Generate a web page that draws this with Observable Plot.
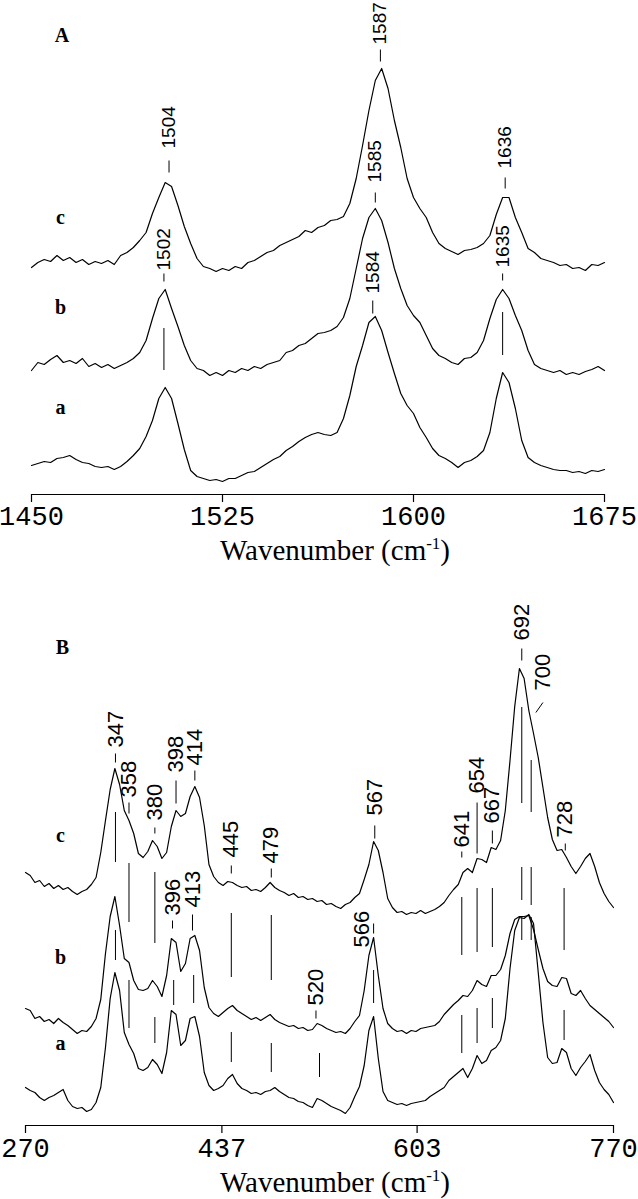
<!DOCTYPE html>
<html><head><meta charset="utf-8">
<script src="https://cdn.jsdelivr.net/npm/d3@7"></script>
<script src="https://cdn.jsdelivr.net/npm/@observablehq/plot@0.6"></script>
<style>
body{margin:0;background:#fff;}
#chart svg{display:block;}
</style></head><body><div id="chart"></div>
<script>
// ---- sampling grids (cm-1) ----
const waveA = d3.range(1450, 1675.01, 2.5);
const waveB = d3.range(270, 770.01, 4);
// ---- panel A spectra (relative intensity, offset traces) ----
const specA_c = [227,232,235,233,239,234,237,232,235,230,233,231,234,230,239,242,247,254,262,281,297,312,308,289,268,251,236,228,226,223,226,224,228,226,232,234,238,242,244,249,252,255,258,264,262,267,269,274,275,278,291,316,349,384,414,426,406,374,347,316,297,286,277,262,251,246,243,240,244,245,247,251,259,280,297,297,277,262,246,242,236,234,232,229,230,226,227,224,230,229,232];
const specA_b = [124,132,130,135,139,132,134,131,136,128,131,127,130,126,129,132,136,142,154,176,196,205,186,168,149,134,126,124,119,122,119,124,122,126,124,128,126,130,132,134,142,144,149,151,156,161,162,164,168,177,196,226,256,277,286,274,252,226,206,189,179,172,159,146,139,136,132,130,136,137,142,154,176,195,205,196,179,164,144,130,126,124,122,124,120,122,120,123,125,128,124];
const specA_a = [29,31,33,32,36,37,39,35,32,31,28,27,28,25,28,33,39,46,58,74,96,107,96,71,45,24,18,16,14,15,13,16,16,19,22,23,27,31,35,38,44,48,53,57,60,62,60,59,62,76,99,128,149,172,178,164,142,121,101,89,81,67,57,46,39,36,32,27,32,34,38,44,62,96,122,112,86,54,37,32,29,27,25,24,24,22,23,21,24,23,25];
// ---- panel B spectra ----
const specB_c = [253,250,243,245,239,242,237,240,236,238,234,231,234,236,241,248,273,305,336,357,341,315,305,292,272,268,274,285,279,267,273,299,315,309,312,329,339,328,300,261,249,243,240,244,243,240,238,239,235,236,234,238,243,238,235,233,230,232,228,229,226,227,224,225,221,222,219,217,221,223,228,232,246,261,284,275,253,227,218,213,214,211,213,212,215,212,214,216,219,223,230,236,241,253,257,253,267,266,263,278,276,285,315,365,419,457,447,415,392,368,338,308,286,275,276,268,259,252,259,267,272,259,243,232,224,218];
const specB_b = [117,115,107,109,104,106,102,107,103,100,96,92,95,94,99,107,126,172,209,229,200,167,163,145,136,135,137,145,139,129,150,187,183,154,162,187,190,175,138,118,112,109,113,117,120,115,112,109,106,108,105,108,111,106,103,101,99,100,97,98,95,96,102,100,97,95,93,94,92,97,104,110,135,170,188,150,117,102,97,94,95,92,95,94,97,98,99,100,104,111,116,121,125,130,129,135,145,141,139,150,150,156,170,192,206,209,209,210,196,176,157,144,140,139,148,147,132,130,135,127,120,116,112,108,104,98];
const specB_a = [38,35,33,28,25,28,30,33,36,25,19,17,18,14,16,23,38,78,127,153,135,93,81,72,57,55,58,66,61,52,73,115,111,80,85,107,109,89,53,40,35,37,40,47,51,42,37,35,32,33,31,34,35,38,34,31,28,27,24,23,20,18,27,25,22,19,17,15,12,18,29,39,60,95,109,67,34,25,23,21,22,20,22,23,24,25,29,32,35,38,45,49,53,57,48,57,70,62,65,75,78,85,107,157,195,208,207,211,202,153,103,68,62,63,77,73,57,50,58,64,71,55,43,36,31,23];

const ticksA = [1450, 1525, 1600, 1675];
const ticksB = [270, 437, 603, 770];

// peak labels: text, label position (x, bottom y), tick segment
const peaksA = [
  {text:"1504", x:1504, y:346, tx1:1504, tx2:1504, t1:334, t2:322},
  {text:"1502", x:1502, y:224, tx1:1502, tx2:1502, t1:221, t2:213},
  {text:"1587", x:1587, y:450, tx1:1587, tx2:1587, t1:445, t2:433},
  {text:"1585", x:1585, y:312, tx1:1585, tx2:1585, t1:302, t2:292},
  {text:"1584", x:1584, y:201, tx1:1584, tx2:1584, t1:194, t2:181},
  {text:"1636", x:1636, y:326, tx1:1636, tx2:1636, t1:317, t2:306},
  {text:"1635", x:1635, y:227, tx1:1635, tx2:1635, t1:221, t2:214}
];
const guidesA = [
  {x:1502, y1:166, y2:124},
  {x:1635, y1:182, y2:139}
];
const peaksB = [
  {text:"347", x:346.5, y:378, tx1:346.5, tx2:346.5, t1:372, t2:363},
  {text:"358", x:358, y:328, tx1:358, tx2:358, t1:323, t2:312},
  {text:"380", x:380, y:305, tx1:380, tx2:380, t1:298, t2:292},
  {text:"398", x:398, y:353, tx1:398, tx2:398, t1:345, t2:322},
  {text:"414", x:414, y:360, tx1:414, tx2:414, t1:355, t2:345},
  {text:"445", x:445, y:268, tx1:445, tx2:445, t1:260, t2:252},
  {text:"479", x:479, y:262, tx1:479, tx2:479, t1:257, t2:248},
  {text:"567", x:567, y:310, tx1:567, tx2:567, t1:300, t2:287},
  {text:"641", x:641, y:278, tx1:641, tx2:641, t1:274, t2:268},
  {text:"654", x:654, y:332, tx1:654, tx2:654, t1:323, t2:272},
  {text:"667", x:667, y:302, tx1:667, tx2:667, t1:295, t2:282},
  {text:"692", x:692, y:485, tx1:692, tx2:692, t1:477, t2:465},
  {text:"700", x:710, y:435, tx1:710, tx2:704, t1:423, t2:413},
  {text:"728", x:729, y:288, tx1:729, tx2:729, t1:282, t2:275},
  {text:"396", x:395, y:210, tx1:395, tx2:395, t1:205, t2:197},
  {text:"413", x:412, y:218, tx1:412, tx2:412, t1:211, t2:195},
  {text:"520", x:517, y:120, tx1:517, tx2:517, t1:115, t2:107},
  {text:"566", x:556, y:178, tx1:566, tx2:566, t1:202, t2:192}
];
const guidesB = [
  {x:346.5, y1:313, y2:263}, {x:358, y1:262, y2:203}, {x:380, y1:253, y2:182},
  {x:445, y1:212, y2:148}, {x:479, y1:210, y2:145}, {x:641, y1:228, y2:170},
  {x:654, y1:237, y2:173}, {x:667, y1:237, y2:178}, {x:692, y1:418, y2:322},
  {x:692, y1:258, y2:225}, {x:700, y1:365, y2:313}, {x:700, y1:258, y2:220},
  {x:728, y1:237, y2:175},
  {x:346.5, y1:195, y2:165}, {x:358, y1:145, y2:97}, {x:380, y1:108, y2:82},
  {x:396, y1:145, y2:120}, {x:413, y1:150, y2:122}, {x:445, y1:93, y2:63},
  {x:479, y1:82, y2:53}, {x:520, y1:72, y2:48}, {x:566, y1:155, y2:122},
  {x:641, y1:110, y2:72}, {x:654, y1:117, y2:82}, {x:667, y1:127, y2:97},
  {x:692, y1:208, y2:185}, {x:700, y1:208, y2:185}, {x:728, y1:115, y2:85}
];
const namesA = [
  {text:"A", x:1462, y:459}, {text:"c", x:1461.4, y:277},
  {text:"b", x:1461.4, y:187}, {text:"a", x:1461.4, y:87}
];
const namesB = [
  {text:"B", x:301.5, y:478}, {text:"c", x:299.8, y:290},
  {text:"b", x:299.8, y:168}, {text:"a", x:299.8, y:82}
];

function table(wave, list) {
  return list.flatMap(([s, v]) => v.map((y, i) => ({series: s, x: wave[i], y})));
}
const rowsA = table(waveA, [["a", specA_a], ["b", specA_b], ["c", specA_c]]);
const rowsB = table(waveB, [["a", specB_a], ["b", specB_b], ["c", specB_c]]);

function panel({rows, peaks, guides, names, domain, ticks, ymax, height, mL, mR, mB, tickPad, labelSize, labelFont}) {
  return Plot.plot({
    width: 638, height, marginLeft: mL, marginRight: mR, marginTop: 0, marginBottom: mB,
    style: {background: "white", color: "black"},
    x: {domain, axis: null},
    y: {domain: [0, ymax], axis: null},
    marks: [
      Plot.ruleY([0], {stroke: "black", strokeWidth: 1.2}),
      Plot.axisX({ticks, tickSize: 8, tickPadding: tickPad, fontSize: 27, fontFamily: "Liberation Mono, Courier New, monospace",
                  tickFormat: d => String(d), label: null, stroke: "black", strokeWidth: 1.2}),
      Plot.line(rows, {x: "x", y: "y", z: "series", stroke: "black", strokeWidth: 1.2}),
      Plot.ruleX(guides, {x: "x", y1: "y1", y2: "y2", stroke: "black", strokeWidth: 1}),
      Plot.link(peaks, {x1: "tx1", x2: "tx2", y1: "t1", y2: "t2", stroke: "black", strokeWidth: 1}),
      Plot.text(peaks, {x: "x", y: "y", text: "text", rotate: -90, textAnchor: "start", lineAnchor: "middle",
                        fontSize: labelSize, fontFamily: labelFont, fill: "black"}),
      Plot.text(names, {x: "x", y: "y", text: "text", fontSize: 20, fontWeight: "bold",
                        fontFamily: "Liberation Serif, Times New Roman, serif", fill: "black"})
    ]
  });
}

function addTitle(svg, y) {
  const t = d3.select(svg).append("text").attr("x", 335).attr("y", y).attr("text-anchor", "middle")
    .attr("font-family", "Liberation Serif, Times New Roman, serif").attr("font-size", 29).attr("fill", "black");
  t.append("tspan").text("Wavenumber (cm");
  t.append("tspan").attr("dy", -11).attr("font-size", 17).text("-1");
  t.append("tspan").attr("dy", 11).text(")");
}

const chartA = panel({rows: rowsA, peaks: peaksA, guides: guidesA, names: namesA, domain: [1450, 1675], ticks: ticksA,
  ymax: 494, height: 570, mL: 31, mR: 34, mB: 76, tickPad: 3, labelSize: 19, labelFont: "Liberation Sans, Arial, sans-serif"});
const chartB = panel({rows: rowsB, peaks: peaksB, guides: guidesB, names: namesB, domain: [270, 770], ticks: ticksB,
  ymax: 555, height: 629, mL: 25, mR: 25, mB: 74, tickPad: 4, labelSize: 22, labelFont: "Liberation Sans, Arial, sans-serif"});

addTitle(chartA, 560);
addTitle(chartB, 622);
document.getElementById("chart").append(chartA, chartB);
</script></body></html>
